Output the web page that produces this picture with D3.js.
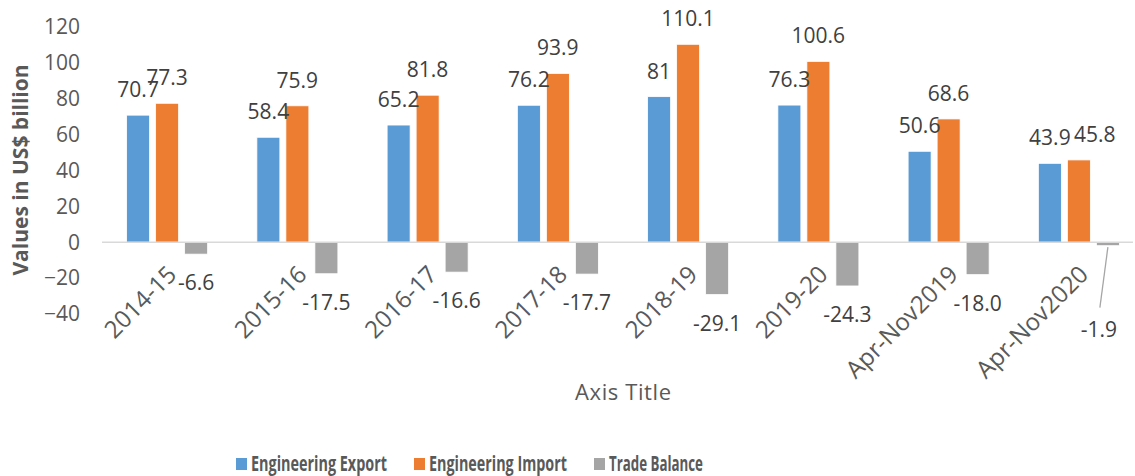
<!DOCTYPE html>
<html>
<head>
<meta charset="utf-8">
<script src="https://cdn.jsdelivr.net/npm/d3@7"></script>
<style>
    body { margin: 0; background: #fff; }
    svg { display: block; font-family: 'Open Sans', sans-serif; }
</style>
</head>
<body>
<div id="chart"></div>
<script>
const categories = ['2014-15', '2015-16', '2016-17', '2017-18', '2018-19', '2019-20', 'Apr-Nov2019', 'Apr-Nov2020'];
const seriesNames = ['Engineering Export', 'Engineering Import', 'Trade Balance'];
const exportValues = [70.7, 58.4, 65.2, 76.2, 81, 76.3, 50.6, 43.9];
const importValues = [77.3, 75.9, 81.8, 93.9, 110.1, 100.6, 68.6, 45.8];
const balanceValues = [-6.6, -17.5, -16.6, -17.7, -29.1, -24.3, -18.0, -1.9];
const exportLabels = ['70.7', '58.4', '65.2', '76.2', '81', '76.3', '50.6', '43.9'];
const importLabels = ['77.3', '75.9', '81.8', '93.9', '110.1', '100.6', '68.6', '45.8'];
const balanceLabels = ['-6.6', '-17.5', '-16.6', '-17.7', '-29.1', '-24.3', '-18.0', '-1.9'];
const yTicks = [-40, -20, 0, 20, 40, 60, 80, 100, 120];

const colors = ['#5B9BD5', '#ED7D31', '#A5A5A5'];
const width = 1135, height = 476;

const svg = d3.select('#chart').append('svg')
    .attr('width', width)
    .attr('height', height);

// scales
const x0 = d3.scaleBand()
    .domain(categories)
    .range([102, 1144])
    .paddingInner(0.378)
    .paddingOuter(0.189);
const x1 = d3.scaleBand()
    .domain(seriesNames)
    .range([0, x0.bandwidth()])
    .paddingInner(0.207);
const y = d3.scaleLinear()
    .domain([-40, 120])
    .range([314.2, 26.5]);

// squeeze a text horizontally to a target width (narrow Calibri look)
function squeeze(sel, target) {
    const w = sel.node().getComputedTextLength();
    const k = Math.min(1, target / w);
    const t = sel.attr('transform') || '';
    sel.attr('transform', `${t} scale(${k},1)`);
}

// y axis labels only, no line
const yAxis = d3.axisLeft(y).tickValues(yTicks).tickSize(0).tickPadding(0);
const yg = svg.append('g')
    .attr('transform', 'translate(80,0)')
    .call(yAxis);
yg.select('.domain').remove();
yg.selectAll('text')
    .attr('font-size', 21)
    .attr('font-family', 'Open Sans')
    .attr('fill', '#595959');

// bars
const table = categories.map((c, i) => ({
    cat: c,
    values: [
        {name: seriesNames[0], v: exportValues[i], label: exportLabels[i]},
        {name: seriesNames[1], v: importValues[i], label: importLabels[i]},
        {name: seriesNames[2], v: balanceValues[i], label: balanceLabels[i]}
    ]
}));

const groups = svg.selectAll('.group')
    .data(table)
    .join('g')
    .attr('class', 'group')
    .attr('transform', d => `translate(${x0(d.cat)},0)`);

groups.selectAll('rect')
    .data(d => d.values)
    .join('rect')
    .attr('x', d => x1(d.name))
    .attr('width', x1.bandwidth())
    .attr('y', d => y(Math.max(0, d.v)))
    .attr('height', d => Math.abs(y(d.v) - y(0)))
    .attr('fill', (d, i) => colors[i])
    .attr('stroke', '#fff')
    .attr('stroke-width', 0.8);

// zero line
svg.append('line')
    .attr('x1', 102).attr('x2', 1133)
    .attr('y1', y(0)).attr('y2', y(0))
    .attr('stroke', '#D9D9D9')
    .attr('stroke-width', 1.6);

// data labels
groups.each(function(d) {
    const g = d3.select(this);
    d.values.forEach((s, i) => {
        const cx = x1(s.name) + x1.bandwidth() / 2;
        let ly, lx = cx;
        if (s.v >= 0) {
            ly = y(s.v) - 18;
            // nudge the import label right when it sits level with the export label
            if (i === 1 && Math.abs(y(s.v) - y(d.values[0].v)) < 8) lx = cx + 16;
        } else if (Math.abs(s.v) < 3) {
            // tiny bar: label pulled down with a leader line
            ly = y(s.v) + 91;
            lx = cx - 9;
            g.append('line')
                .attr('x1', cx).attr('y1', y(s.v) + 1.5)
                .attr('x2', cx - 8).attr('y2', y(s.v) + 62)
                .attr('stroke', '#A6A6A6')
                .attr('stroke-width', 1.3);
        } else {
            ly = y(s.v) + 36;
        }
        g.append('text')
            .attr('x', lx)
            .attr('y', ly)
            .attr('text-anchor', 'middle')
            .attr('font-size', 21)
            .attr('fill', '#404040')
            .text(s.label);
    });
});

// x category labels, rotated
svg.append('g')
    .selectAll('text')
    .data(categories)
    .join('text')
    .attr('transform', d => `translate(${x0(d) + x0.bandwidth() / 2 + 5},270) rotate(-45)`)
    .attr('text-anchor', 'end')
    .attr('dy', '0.35em')
    .attr('font-size', 24)
    .attr('fill', '#595959')
    .text(d => d);

// axis titles
svg.append('text')
    .attr('x', (102 + 1144) / 2)
    .attr('y', 400)
    .attr('text-anchor', 'middle')
    .attr('font-size', 22)
    .attr('fill', '#595959')
    .attr('textLength', 96)
    .attr('lengthAdjust', 'spacing')
    .text('Axis Title');

const yTitle = svg.append('text')
    .attr('transform', 'translate(28,170) rotate(-90)')
    .attr('text-anchor', 'middle')
    .attr('font-size', 21)
    .attr('font-weight', 'bold')
    .attr('fill', '#595959')
    .text('Values in US$ billion');
squeeze(yTitle, 226);

// legend
const legendWidths = [136, 138, 94];
let lx = 236;
seriesNames.forEach((name, i) => {
    svg.append('rect')
        .attr('x', lx).attr('y', 458)
        .attr('width', 11).attr('height', 12)
        .attr('fill', colors[i]);
    const t = svg.append('text')
        .attr('transform', `translate(${lx + 15},471)`)
        .attr('font-size', 21)
        .attr('font-weight', 'bold')
        .attr('fill', '#595959')
        .text(name);
    squeeze(t, legendWidths[i]);
    lx += 15 + legendWidths[i] + 27;
});
</script>
</body>
</html>
